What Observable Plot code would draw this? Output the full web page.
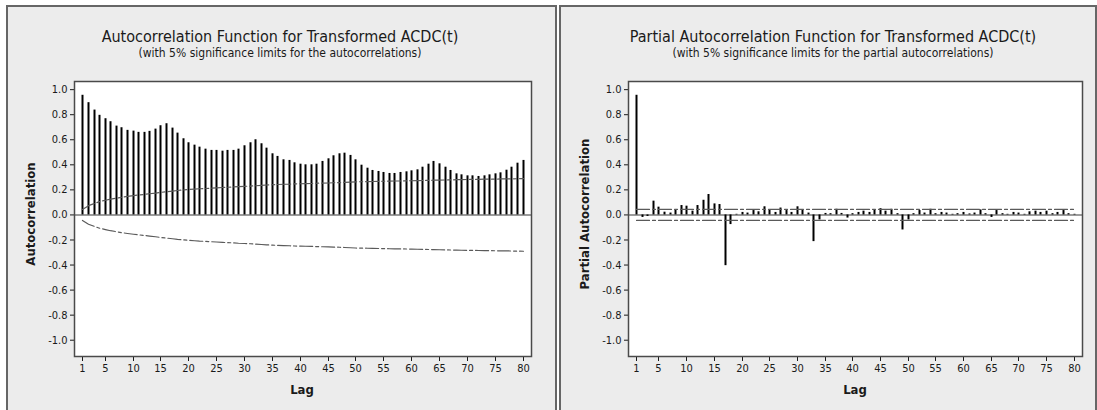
<!DOCTYPE html>
<html>
<head>
<meta charset="utf-8">
<script src="https://cdn.jsdelivr.net/npm/d3@7"></script>
<script src="https://cdn.jsdelivr.net/npm/@observablehq/plot@0.6"></script>
<style>
  html, body { margin: 0; padding: 0; background: #ffffff; }
  #root { position: relative; width: 1097px; height: 410px; overflow: hidden;
          font-family: Tahoma, "DejaVu Sans Condensed", "DejaVu Sans", sans-serif; color: #1a1a1a; }
  .panel { position: absolute; box-sizing: border-box; background: #ececec; border: 2px solid #666; }
  .svgwrap { position: absolute; top: 0; }
  .title { position: absolute; transform: translate(-50%, -50%); white-space: nowrap; font-size: 16px; }
  .subtitle { position: absolute; transform: translate(-50%, -50%); white-space: nowrap; font-size: 12px; }
  .xlab { position: absolute; transform: translate(-50%, -50%); white-space: nowrap; font-size: 13px; font-weight: bold; }
  .ylab { position: absolute; transform: translate(-50%, -50%) rotate(-90deg); white-space: nowrap; font-size: 13px; font-weight: bold; }
</style>
</head>
<body>
<div id="root">
  <div class="panel" style="left:6px; top:5px; width:551px; height:420px;"></div>
  <div class="panel" style="left:559px; top:5px; width:538px; height:420px;"></div>
  <div class="svgwrap" id="acf" style="left:0px;"></div>
  <div class="svgwrap" id="pacf" style="left:550px;"></div>
  <div class="title" style="left:280px; top:36px;">Autocorrelation Function for Transformed ACDC(t)</div>
  <div class="subtitle" style="left:280px; top:53px;">(with 5% significance limits for the autocorrelations)</div>
  <div class="title" style="left:833px; top:36px;">Partial Autocorrelation Function for Transformed ACDC(t)</div>
  <div class="subtitle" style="left:833px; top:53px;">(with 5% significance limits for the partial autocorrelations)</div>
  <div class="ylab" style="left:30px; top:214px;">Autocorrelation</div>
  <div class="xlab" style="left:302px; top:389px;">Lag</div>
  <div class="ylab" style="left:584px; top:214px;">Partial Autocorrelation</div>
  <div class="xlab" style="left:855px; top:389px;">Lag</div>
</div>
<script>
const lags = [1,2,3,4,5,6,7,8,9,10,11,12,13,14,15,16,17,18,19,20,
  21,22,23,24,25,26,27,28,29,30,31,32,33,34,35,36,37,38,39,40,
  41,42,43,44,45,46,47,48,49,50,51,52,53,54,55,56,57,58,59,60,
  61,62,63,64,65,66,67,68,69,70,71,72,73,74,75,76,77,78,79,80];

const acfValues = [0.955,0.896,0.837,0.795,0.768,0.744,0.709,0.696,0.675,0.669,
  0.659,0.659,0.667,0.685,0.712,0.728,0.693,0.653,0.608,0.576,
  0.557,0.541,0.525,0.515,0.515,0.509,0.515,0.515,0.525,0.552,
  0.576,0.600,0.568,0.533,0.488,0.467,0.440,0.435,0.416,0.405,
  0.400,0.400,0.405,0.427,0.448,0.472,0.488,0.493,0.475,0.440,
  0.397,0.373,0.355,0.347,0.339,0.331,0.331,0.339,0.344,0.352,
  0.360,0.381,0.405,0.427,0.408,0.381,0.355,0.328,0.320,0.312,
  0.312,0.307,0.312,0.320,0.328,0.336,0.357,0.381,0.413,0.435];

const acfLimit = [0.044,0.074,0.092,0.106,0.117,0.126,0.134,0.141,0.148,0.154,
  0.159,0.164,0.169,0.174,0.180,0.185,0.190,0.195,0.199,0.203,
  0.206,0.209,0.211,0.214,0.216,0.219,0.221,0.223,0.226,0.228,
  0.230,0.233,0.236,0.239,0.241,0.243,0.245,0.246,0.248,0.249,
  0.250,0.251,0.253,0.254,0.255,0.257,0.258,0.260,0.262,0.264,
  0.265,0.266,0.267,0.268,0.269,0.270,0.271,0.271,0.272,0.273,
  0.274,0.275,0.276,0.277,0.278,0.279,0.280,0.281,0.282,0.283,
  0.283,0.284,0.285,0.285,0.286,0.287,0.287,0.288,0.289,0.290];

const pacfValues = [0.955,-0.020,-0.012,0.110,0.062,0.022,0.015,0.040,0.075,0.070,
  0.030,0.075,0.117,0.163,0.088,0.083,-0.405,-0.077,0.005,0.020,
  0.015,0.035,0.025,0.065,0.040,0.020,0.055,0.035,0.020,0.065,
  0.040,0.015,-0.213,-0.040,0.012,0.010,0.045,0.012,-0.025,0.010,
  0.020,0.030,0.020,0.040,0.050,0.030,0.045,0.010,-0.120,-0.040,
  0.010,0.035,0.015,0.045,0.010,0.020,0.015,0.005,0.010,0.020,
  0.008,0.015,0.040,0.010,-0.020,0.035,0.010,0.005,0.020,0.015,
  0.005,0.025,0.030,0.020,0.030,0.010,0.020,0.035,0.010,0.005];

const pacfLimit = 0.044;

const xTicks = [1,5,10,15,20,25,30,35,40,45,50,55,60,65,70,75,80];
const yTicks = [-1.0,-0.8,-0.6,-0.4,-0.2,0.0,0.2,0.4,0.6,0.8,1.0];

const acfData = lags.map((l, i) => ({lag: l, value: acfValues[i], upper: acfLimit[i], lower: -acfLimit[i]}));
const pacfData = lags.map((l, i) => ({lag: l, value: pacfValues[i], upper: pacfLimit, lower: -pacfLimit}));

const fontFamily = 'Tahoma, "DejaVu Sans Condensed", "DejaVu Sans", sans-serif';
const dash = "13,3,3,3";

function makePlot(data, opts) {
  return Plot.plot({
    width: opts.width,
    height: 410,
    marginLeft: opts.ml,
    marginRight: opts.mr,
    marginTop: 81,
    marginBottom: 54,
    style: {background: "transparent", fontFamily, fontSize: "11px", color: "#1a1a1a"},
    x: {domain: [-0.5, 81.5], round: true},
    y: {domain: [-1.13, 1.065]},
    marks: [
      Plot.frame({fill: "white"}),
      Plot.ruleY([0], {stroke: "#7a7a7a", strokeWidth: 1.5}),
      Plot.ruleX(data, {x: "lag", y: "value", stroke: "#000", strokeWidth: 2}),
      Plot.line(data, {x: "lag", y: "upper", stroke: "#5a5a5a", strokeWidth: 1.2, strokeDasharray: dash}),
      Plot.line(data, {x: "lag", y: "lower", stroke: "#5a5a5a", strokeWidth: 1.2, strokeDasharray: dash}),
      Plot.axisY({ticks: yTicks, tickFormat: d => d.toFixed(1), tickSize: 4, tickPadding: 3, label: null}),
      Plot.axisX({ticks: xTicks, tickFormat: d => String(d), tickSize: 5, tickPadding: 3, label: null}),
      Plot.frame({stroke: "#4a4a4a", strokeWidth: 1.5})
    ]
  });
}

document.getElementById("acf").append(makePlot(acfData, {width: 550, ml: 74, mr: 19}));
document.getElementById("pacf").append(makePlot(pacfData, {width: 547, ml: 78, mr: 15}));
</script>
</body>
</html>
